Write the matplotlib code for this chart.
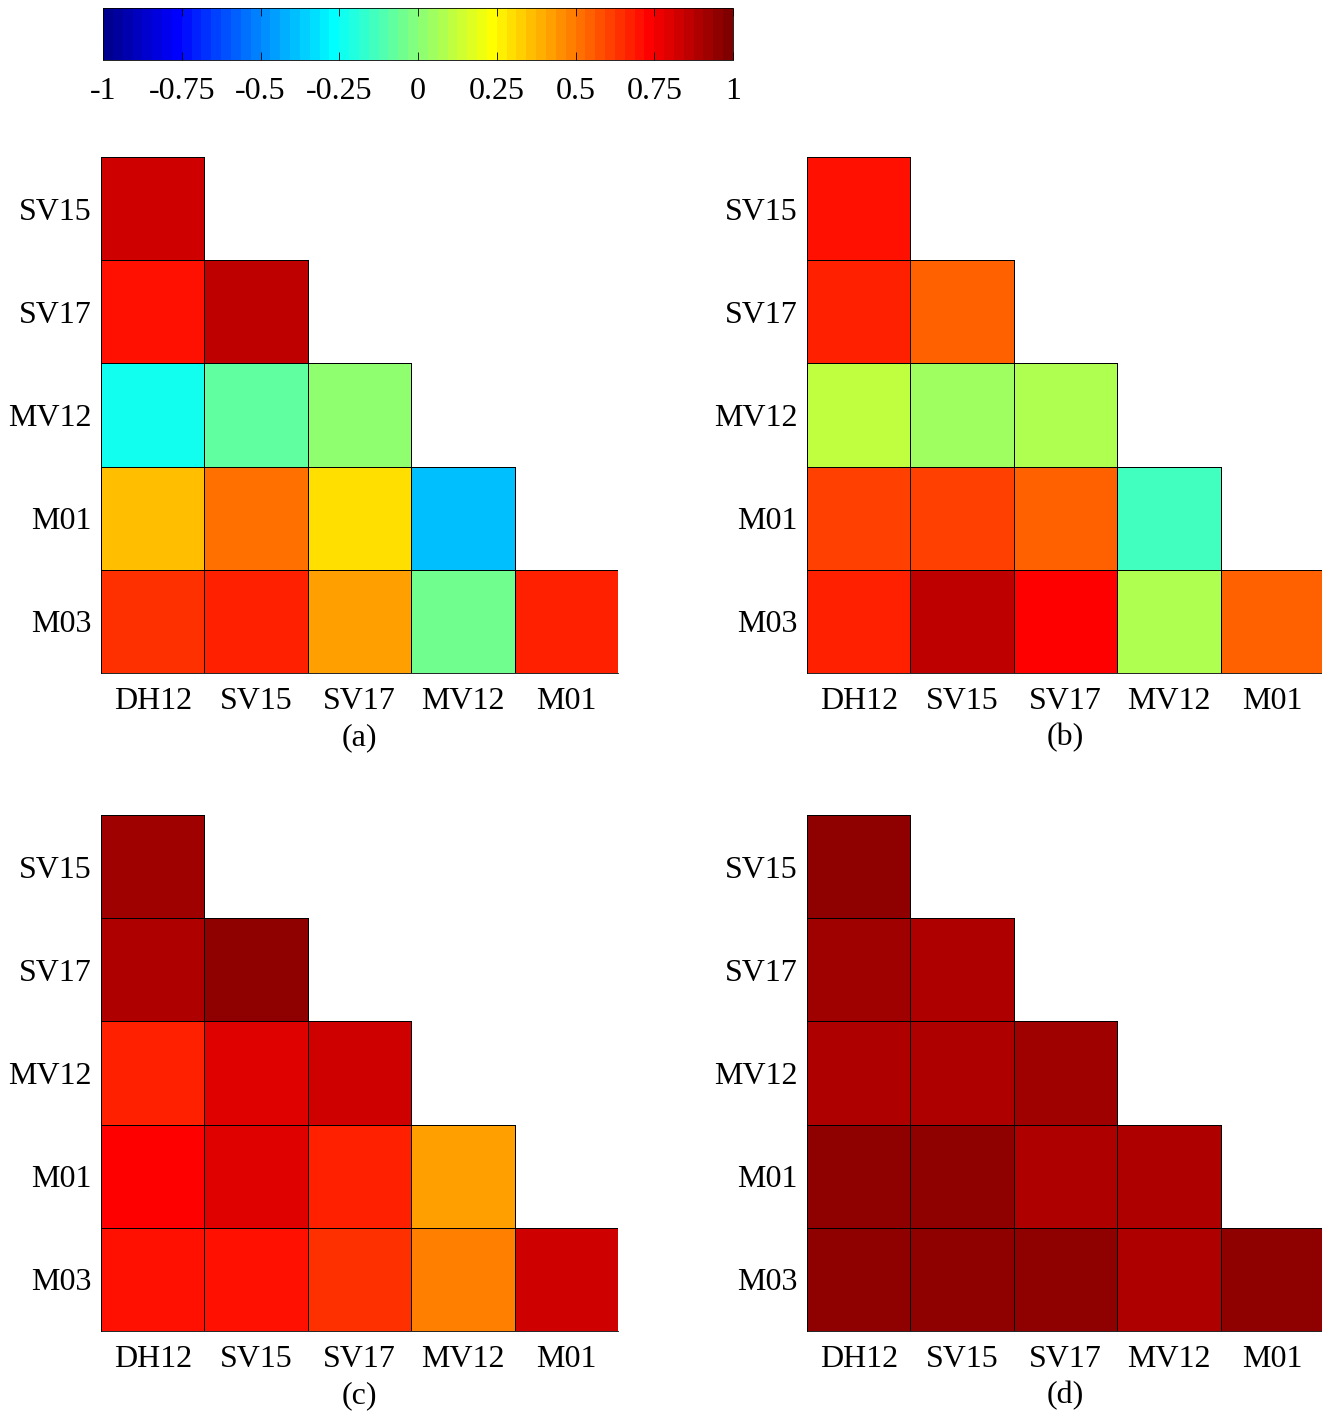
import numpy as np
import matplotlib
matplotlib.use("Agg")
import matplotlib.pyplot as plt
from matplotlib.colors import ListedColormap, Normalize
import matplotlib.colorbar as mcolorbar

row_labels = ["SV15", "SV17", "MV12", "M01", "M03"]
col_labels = ["DH12", "SV15", "SV17", "MV12", "M01"]
panel_tags = ["(a)", "(b)", "(c)", "(d)"]

# lower triangle of each correlation matrix, row by row
corr_a = [[0.83],
          [0.70, 0.86],
          [-0.23, -0.08, 0.02],
          [0.36, 0.52, 0.30, -0.39],
          [0.64, 0.67, 0.42, -0.05, 0.67]]
corr_b = [[0.70],
          [0.67, 0.55],
          [0.11, 0.05, 0.08],
          [0.61, 0.61, 0.55, -0.14],
          [0.67, 0.86, 0.73, 0.08, 0.55]]
corr_c = [[0.92],
          [0.89, 0.95],
          [0.67, 0.80, 0.83],
          [0.73, 0.80, 0.67, 0.42],
          [0.70, 0.70, 0.64, 0.48, 0.83]]
corr_d = [[0.95],
          [0.92, 0.89],
          [0.89, 0.89, 0.92],
          [0.95, 0.95, 0.89, 0.89],
          [0.95, 0.95, 0.95, 0.89, 0.95]]

cbar_ticks = [-1, -0.75, -0.5, -0.25, 0, 0.25, 0.5, 0.75, 1]
cbar_ticklabels = ["-1", "-0.75", "-0.5", "-0.25", "0", "0.25", "0.5", "0.75", "1"]


def matlab_jet(n=64):
    # same construction as MATLAB's jet(n)
    m = int(np.ceil(n / 4))
    u = np.concatenate([np.arange(1, m + 1) / m, np.ones(m - 1), np.arange(m, 0, -1) / m])
    g = int(np.ceil(m / 2)) - (1 if n % 4 == 1 else 0) + np.arange(1, len(u) + 1)
    r = g + m
    b = g - m
    J = np.zeros((n, 3))
    J[r[r <= n] - 1, 0] = u[r <= n]
    J[g[g <= n] - 1, 1] = u[g <= n]
    J[b[b >= 1] - 1, 2] = u[b >= 1]
    return ListedColormap(J)


plt.rcParams["font.family"] = ["Liberation Serif", "DejaVu Serif"]

cmap = matlab_jet(64)
norm = Normalize(vmin=-1, vmax=1)
fs = 23
lw = 0.6

fig = plt.figure(figsize=(13.22, 14.16), dpi=100)

W, H = 1322.0, 1416.0
boxes = [(101, 157), (807, 157), (101, 815), (807, 815)]
size_w, size_h = 517, 516

for (x0, y0), data, tag in zip(boxes, [corr_a, corr_b, corr_c, corr_d], panel_tags):
    ax = fig.add_axes([x0 / W, 1 - (y0 + size_h) / H, size_w / W, size_h / H])
    # one strip of cells per row so only the lower triangle gets edges
    for i, row in enumerate(data):
        ax.pcolormesh(np.arange(len(row) + 1), [i, i + 1], np.array([row]),
                      cmap=cmap, norm=norm, edgecolors="k", linewidth=lw)
    ax.set_xlim(0, 5)
    ax.set_ylim(5, 0)
    ax.set_xticks(np.arange(5) + 0.5)
    ax.set_xticklabels(col_labels, fontsize=fs)
    ax.set_yticks(np.arange(5) + 0.5)
    ax.set_yticklabels(row_labels, fontsize=fs)
    ax.tick_params(length=0)
    ax.tick_params(axis="x", pad=10)
    ax.tick_params(axis="y", pad=7)
    for s in ["top", "right"]:
        ax.spines[s].set_visible(False)
    for s in ["left", "bottom"]:
        ax.spines[s].set_linewidth(lw)
    ax.text(0.5, -0.126, tag, transform=ax.transAxes, ha="center", va="center", fontsize=fs)

cax = fig.add_axes([103 / W, 1 - 60 / H, 630 / W, 52 / H])
cb = mcolorbar.ColorbarBase(cax, cmap=cmap, norm=norm, orientation="horizontal")
cb.set_ticks(cbar_ticks)
cb.set_ticklabels(cbar_ticklabels)
cax.xaxis.set_ticks_position("both")
cax.tick_params(axis="x", direction="in", length=6, width=lw, labelsize=fs, pad=12,
                top=True, bottom=True, labeltop=False, labelbottom=True)
cb.outline.set_linewidth(lw)

fig.savefig("out.png", dpi=100)
